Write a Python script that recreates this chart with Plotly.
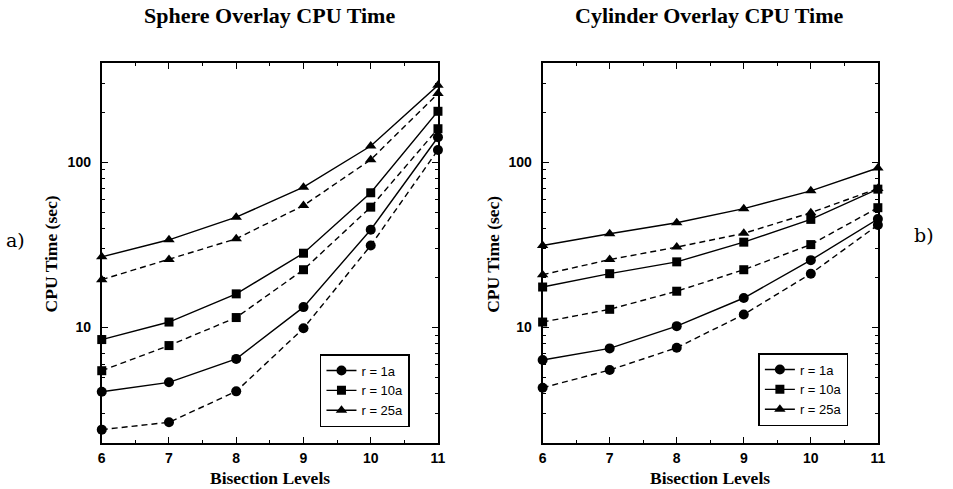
import plotly.graph_objects as go
import math

levels = [6, 7, 8, 9, 10, 11]

# Sphere overlay (left)
sph_r1_solid = [4.09, 4.66, 6.46, 13.3, 39.1, 142]
sph_r1_dash = [2.41, 2.67, 4.11, 9.9, 31.4, 119]
sph_r10_solid = [8.46, 10.8, 16.0, 28.2, 65.5, 204]
sph_r10_dash = [5.48, 7.78, 11.5, 22.4, 53.6, 160]
sph_r25_solid = [26.8, 34.0, 46.6, 70.8, 125.7, 293]
sph_r25_dash = [19.5, 25.8, 34.5, 54.8, 103.8, 261]

# Cylinder overlay (right)
cyl_r1_solid = [6.36, 7.48, 10.2, 15.1, 25.6, 45.4]
cyl_r1_dash = [4.32, 5.53, 7.55, 12.0, 21.2, 41.8]
cyl_r10_solid = [17.6, 21.2, 25.0, 32.9, 45.2, 68.9]
cyl_r10_dash = [10.8, 12.9, 16.6, 22.4, 31.8, 53.2]
cyl_r25_solid = [31.4, 37.0, 43.1, 52.5, 67.3, 92.5]
cyl_r25_dash = [20.9, 25.8, 30.7, 37.2, 49.6, 69.5]

legend_names = ["r = 1a", "r = 10a", "r = 25a"]
symbols = ["circle", "square", "triangle-up"]
y_major = [10, 100]
y_minor = [2, 3, 4, 5, 6, 7, 8, 9, 20, 30, 40, 50, 60, 70, 80, 90, 200, 300, 400]
x_ticks = [6, 7, 8, 9, 10, 11]
x_minor = [6.5, 7.5, 8.5, 9.5, 10.5]

W, H = 953, 489

fig = go.Figure()

def add_panel(solids, dashes, xa, ya, legend):
    for i, (s, d) in enumerate(zip(solids, dashes)):
        msize = 10 if symbols[i] != "square" else 9
        fig.add_trace(go.Scatter(
            x=levels, y=s, mode="lines+markers", name=legend_names[i],
            line=dict(color="black", width=1.4),
            marker=dict(symbol=symbols[i], size=msize, color="black"),
            xaxis=xa, yaxis=ya, legend=legend, cliponaxis=False))
        fig.add_trace(go.Scatter(
            x=levels, y=d, mode="lines+markers", name=legend_names[i],
            line=dict(color="black", width=1.4, dash="6px,4px"),
            marker=dict(symbol=symbols[i], size=msize, color="black"),
            xaxis=xa, yaxis=ya, showlegend=False, cliponaxis=False))

add_panel([sph_r1_solid, sph_r10_solid, sph_r25_solid],
          [sph_r1_dash, sph_r10_dash, sph_r25_dash], "x", "y", "legend")
add_panel([cyl_r1_solid, cyl_r10_solid, cyl_r25_solid],
          [cyl_r1_dash, cyl_r10_dash, cyl_r25_dash], "x2", "y2", "legend2")

tickfont = dict(family="Liberation Sans, Arial, sans-serif", size=14,
                color="black", weight="bold")

def xaxis(domain, anchor):
    return dict(domain=domain, anchor=anchor, range=[6, 11],
                tickmode="array", tickvals=x_ticks, ticks="inside", ticklen=6,
                tickwidth=1.2, tickcolor="black",
                minor=dict(tickmode="array", tickvals=x_minor, ticks="inside",
                           ticklen=3, tickwidth=1, tickcolor="black"),
                showline=True, linecolor="black", linewidth=2, mirror="ticks",
                showgrid=False, zeroline=False, tickfont=tickfont,
                ticklabelstandoff=1)

def yaxis(domain, anchor):
    return dict(domain=domain, anchor=anchor, type="log",
                range=[math.log10(2), math.log10(400)],
                tickmode="array", tickvals=y_major, ticks="inside", ticklen=6,
                tickwidth=1.2, tickcolor="black",
                minor=dict(tickmode="array", tickvals=y_minor, ticks="inside",
                           ticklen=3, tickwidth=1, tickcolor="black"),
                showline=True, linecolor="black", linewidth=2, mirror="ticks",
                showgrid=False, zeroline=False, tickfont=tickfont,
                ticklabelstandoff=6)

ydom = [46 / H, 426 / H]
legfont = dict(family="Liberation Sans, Arial, sans-serif", size=13, color="black")
fig.update_layout(
    width=W, height=H, margin=dict(l=0, r=0, t=0, b=0),
    paper_bgcolor="white", plot_bgcolor="white",
    xaxis=xaxis([99 / W, 439.5 / W], "y"),
    yaxis=yaxis(ydom, "x"),
    xaxis2=xaxis([545.5 / W, 885 / W], "y2"),
    yaxis2=yaxis(ydom, "x2"),
    legend=dict(x=320 / W, y=1 - 354 / H, xanchor="left", yanchor="top",
                bordercolor="black", borderwidth=1.5, bgcolor="white",
                font=legfont, tracegroupgap=0, itemwidth=30),
    legend2=dict(x=764 / W, y=1 - 353 / H, xanchor="left", yanchor="top",
                 bordercolor="black", borderwidth=1.5, bgcolor="white",
                 font=legfont, tracegroupgap=0, itemwidth=30),
    showlegend=True,
)

serif_b = dict(family="Liberation Serif, Times New Roman, serif", size=22, color="black")
xt_f = dict(family="Liberation Serif, Times New Roman, serif", size=17.5, color="black")
yt_f = dict(family="Liberation Serif, Times New Roman, serif", size=17.5, color="black")
lab_f = dict(family="DejaVu Serif, Liberation Serif, serif", size=19, color="black")

ann = [
    dict(text="<b>Sphere Overlay CPU Time</b>", x=269 / W, y=1 - 16 / H, font=serif_b),
    dict(text="<b>Cylinder Overlay CPU Time</b>", x=715 / W, y=1 - 16 / H, font=serif_b),
    dict(text="<b>Bisection Levels</b>", x=269.5 / W, y=1 - 477.5 / H, font=xt_f),
    dict(text="<b>Bisection Levels</b>", x=715 / W, y=1 - 477.5 / H, font=xt_f),
    dict(text="<b>CPU Time (sec)</b>", x=48 / W, y=1 - 254 / H, font=yt_f, textangle=-90),
    dict(text="<b>CPU Time (sec)</b>", x=495 / W, y=1 - 254 / H, font=yt_f, textangle=-90),
    dict(text="a)", x=12 / W, y=1 - 240 / H, font=lab_f),
    dict(text="b)", x=932 / W, y=1 - 235 / H, font=lab_f),
]
for a in ann:
    a.update(xref="paper", yref="paper", showarrow=False, xanchor="center", yanchor="middle")
fig.update_layout(annotations=ann)

fig.write_html("out.html")
